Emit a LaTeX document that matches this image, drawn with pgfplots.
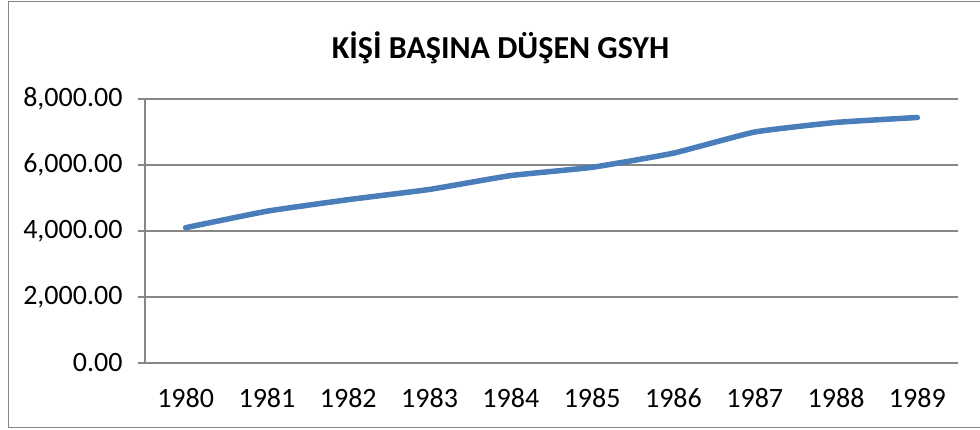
\documentclass[border=0pt]{standalone}
\usepackage{pgfplots}
\pgfplotsset{compat=1.18}
\usepackage{fontspec}
\setmainfont{Carlito}
\definecolor{linec}{HTML}{4A7EBB}
\definecolor{gridc}{HTML}{878787}
\begin{document}
\begin{tikzpicture}[x=1pt,y=1pt]
\useasboundingbox (0,0) rectangle (980,430);
\draw[gridc, line width=1pt] (8,2) rectangle (995,428);
\begin{axis}[
  at={(145pt,67pt)}, anchor=south west,
  scale only axis, width=813pt, height=264pt,
  xmin=-0.5, xmax=9.5, ymin=0, ymax=8000,
  axis lines=left, axis line style={-, gridc, line width=1.2pt},
  xtick={0,...,9},
  xticklabels={1980,1981,1982,1983,1984,1985,1986,1987,1988,1989},
  xtick style={draw=none},
  extra x ticks={-0.5,0.5,...,9.5}, extra x tick labels={},
  extra x tick style={tick align=outside, major tick length=8pt, tick style={gridc, line width=1.2pt, draw=gridc}},
  ytick={0,2000,4000,6000,8000},
  yticklabels={0.00,{2,000.00},{4,000.00},{6,000.00},{8,000.00}},
  ymajorgrids, grid style={gridc, line width=1.2pt},
  ytick style={gridc, line width=1.2pt},
  tick align=outside, major tick length=7pt,
  tick label style={font=\fontsize{28}{30}\selectfont, text=black},
  xticklabel style={yshift=-15pt},
  yticklabel style={xshift=-12pt},
  title={\fontsize{32}{34}\selectfont\bfseries KİŞİ BAŞINA DÜŞEN GSYH},
  title style={at={(0.5,1)}, anchor=south, yshift=26pt, xshift=-51pt},
  clip=false,
]
\addplot[linec, line width=5.5pt, line cap=round, smooth, tension=0.25] coordinates {
(0,4100) (1,4600) (2,4950) (3,5260) (4,5680) (5,5930) (6,6360) (7,7000) (8,7290) (9,7440)
};
\end{axis}
\end{tikzpicture}
\end{document}
